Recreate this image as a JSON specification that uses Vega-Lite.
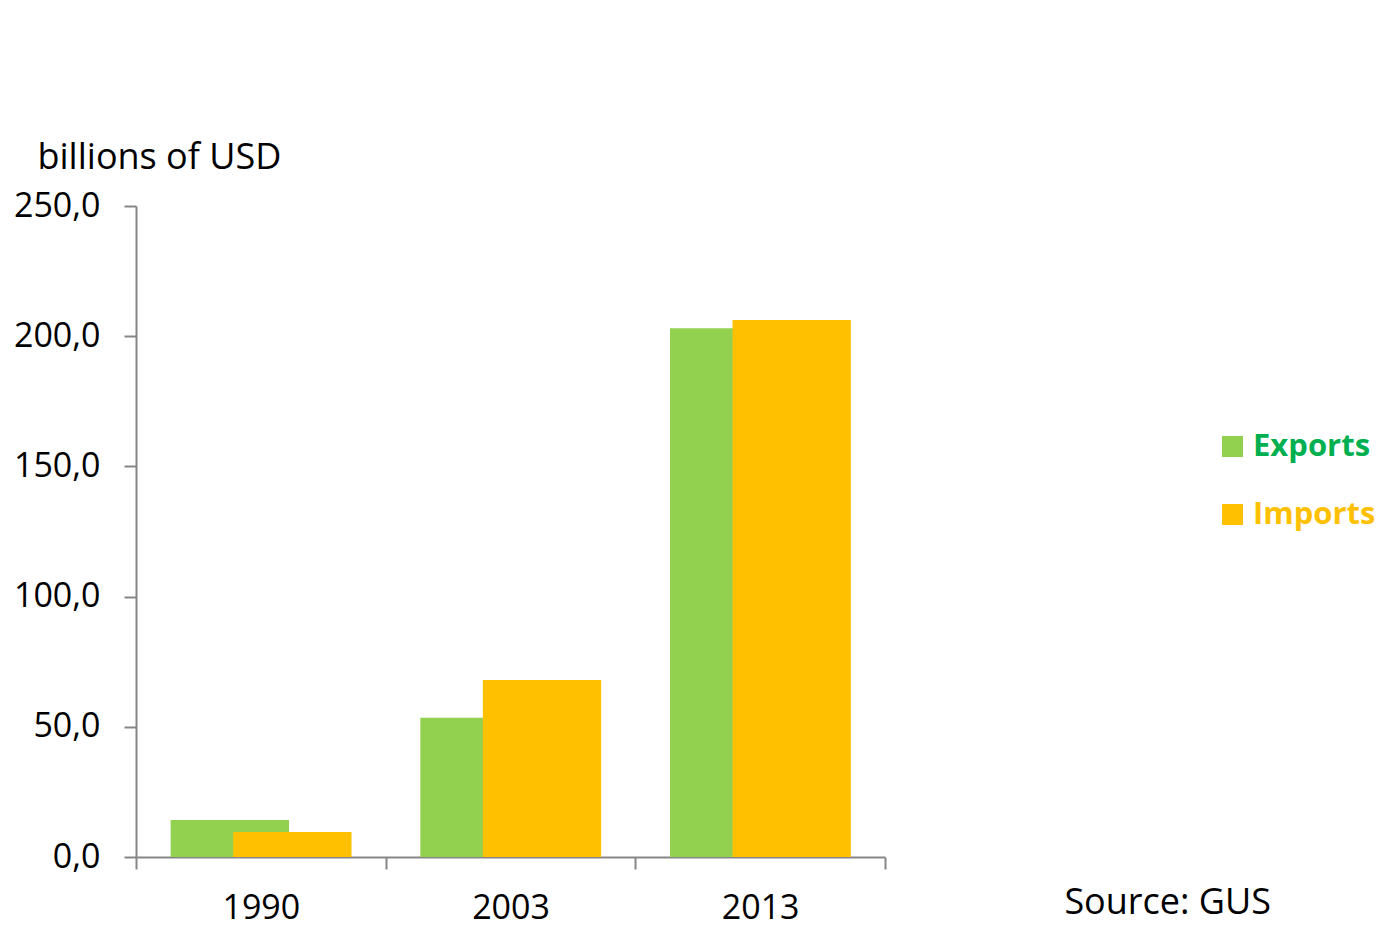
{
  "$schema": "https://vega.github.io/schema/vega-lite/v6.json",
  "width": 749,
  "height": 651,
  "autosize": "none",
  "padding": {"left": 136, "top": 206, "right": 512, "bottom": 90},
  "background": "white",
  "config": {"view": {"stroke": null}, "font": "Open Sans"},
  "data": {
    "values": [
      {"year": "1990", "series": "Exports", "value": 14.2},
      {"year": "1990", "series": "Imports", "value": 9.6},
      {"year": "2003", "series": "Exports", "value": 53.5},
      {"year": "2003", "series": "Imports", "value": 68.0},
      {"year": "2013", "series": "Exports", "value": 203.1},
      {"year": "2013", "series": "Imports", "value": 206.2}
    ]
  },
  "encoding": {
    "x": {
      "field": "year",
      "type": "nominal",
      "scale": {"paddingInner": 0, "paddingOuter": 0},
      "axis": {
        "title": null,
        "labelAngle": 0,
        "tickBand": "extent",
        "tickSize": 12,
        "tickWidth": 2,
        "tickColor": "#868686",
        "domainColor": "#868686",
        "domainWidth": 2,
        "labelFontSize": 34,
        "labelColor": "#000000",
        "labelPadding": 22
      }
    },
    "y": {
      "field": "value",
      "type": "quantitative",
      "scale": {"domain": [0, 250]},
      "axis": {
        "values": [0, 50, 100, 150, 200, 250],
        "labelExpr": "replace(format(datum.value, '.1f'), '.', ',')",
        "grid": false,
        "tickSize": 12,
        "tickWidth": 2,
        "tickColor": "#868686",
        "domainColor": "#868686",
        "domainWidth": 2,
        "labelFontSize": 34,
        "labelColor": "#000000",
        "labelPadding": 24,
        "title": "billions of USD",
        "titleAngle": 0,
        "titleAlign": "left",
        "titleBaseline": "alphabetic",
        "titleX": -99,
        "titleY": -38,
        "titleFontSize": 36,
        "titleFontWeight": "normal",
        "titleColor": "#000000"
      }
    },
    "color": {
      "field": "series",
      "type": "nominal",
      "scale": {"domain": ["Exports", "Imports"], "range": ["#92D050", "#FFC000"]},
      "legend": {
        "title": null,
        "orient": "none",
        "legendX": 1081,
        "legendY": 225,
        "padding": 0,
        "symbolType": "square",
        "symbolSize": 441,
        "symbolStrokeWidth": 0,
        "symbolOpacity": 1,
        "labelFontSize": 31,
        "labelFontWeight": "bold",
        "labelOffset": 5,
        "rowPadding": 36,
        "encode": {
          "labels": {
            "update": {
              "fill": {"signal": "datum.label === 'Exports' ? '#00B050' : '#FFC000'"}
            }
          }
        }
      }
    }
  },
  "layer": [
    {
      "transform": [{"filter": "datum.series === 'Exports'"}],
      "mark": {"type": "bar", "width": {"band": 0.474}, "xOffset": -31}
    },
    {
      "transform": [{"filter": "datum.series === 'Imports'"}],
      "mark": {"type": "bar", "width": {"band": 0.474}, "xOffset": 31.5}
    }
  ],
  "title": {
    "text": "Source: GUS",
    "orient": "bottom",
    "anchor": "end",
    "frame": "group",
    "fontSize": 36,
    "fontWeight": "normal",
    "color": "#000000",
    "dx": 386,
    "dy": -43
  }
}
